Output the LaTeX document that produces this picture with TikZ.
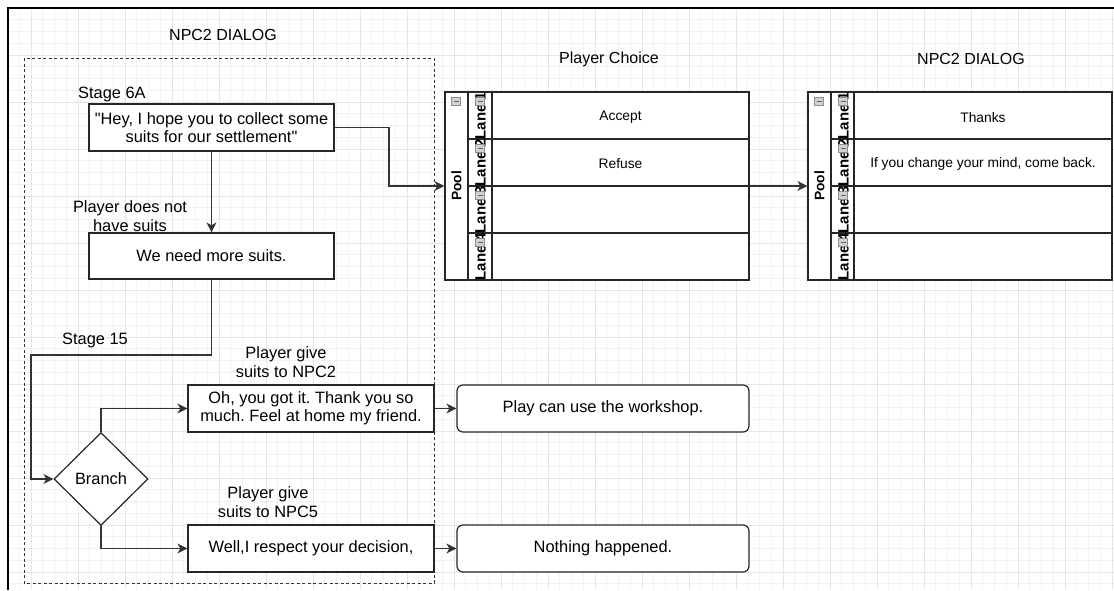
\documentclass[tikz,border=0pt]{standalone}
\usepackage{fontspec}
\setmainfont{Liberation Sans}[Ligatures=TeXOff]
\usetikzlibrary{arrows.meta,shapes.geometric,calc}
\frenchspacing

\tikzset{
  gridminor/.style={draw=black!5, line width=0.6pt},
  gridmajor/.style={draw=black!10, line width=0.8pt},
  frameline/.style={draw=black, line width=2pt},
  box/.style={draw=black!85, line width=1.2pt, fill=white, rectangle, inner sep=0pt, align=center,
              font=\fontsize{16.4}{18.5}\selectfont},
  roundbox/.style={box, rounded corners=6pt},
  decision/.style={draw=black!85, line width=1.2pt, fill=white, diamond, inner sep=0pt,
              minimum width=94pt, minimum height=93pt, font=\fontsize{16.4}{18.5}\selectfont},
  lbl/.style={inner sep=0pt, align=center, font=\fontsize{16.4}{18.5}\selectfont},
  heading/.style={inner sep=0pt, font=\fontsize{16}{19}\selectfont},
  groupbox/.style={draw=black!80, line width=1pt, dash pattern=on 3pt off 2.5pt},
  poolbox/.style={draw=black!85, line width=1.2pt, fill=white, rectangle, inner sep=0pt},
  laneline/.style={draw=black!85, line width=1.2pt},
  lanetext/.style={inner sep=0pt, font=\fontsize{13.8}{16}\selectfont},
  poolhead/.style={inner sep=0pt, rotate=90, font=\fontsize{13.8}{16}\selectfont\bfseries},
  lanehead/.style={inner sep=0pt, rotate=90, font=\fontsize{15}{16}\selectfont\bfseries},
  conn/.style={draw=black!80, line width=1.2pt, -{Stealth[length=10pt,width=10pt,inset=3pt]}},
  minusbox/.pic={
    \draw[draw=black!45, fill=black!18, line width=0.6pt] (-4.5,-4) rectangle (4.5,4);
    \draw[draw=black!60, line width=0.8pt] (-2.5,0) -- (2.5,0);
  }
}

\begin{document}
\begin{tikzpicture}[x=1pt,y=-1pt]
\useasboundingbox (0,0) rectangle (1114,590);
\fill[white] (0,0) rectangle (1114,590);

% background grid
\begin{scope}
  \clip (8,8) rectangle (1114,590);
  \foreach \i in {0,...,96} \draw[gridminor] ({-4.25+\i*11.75},0) -- ++(0,590);
  \foreach \i in {0,...,52} \draw[gridminor] (0,{-3.75+\i*11.75}) -- ++(1114,0);
  \foreach \i in {0,...,24} \draw[gridmajor] ({-16+\i*47},0) -- ++(0,590);
  \foreach \i in {0,...,13} \draw[gridmajor] (0,{8+\i*47}) -- ++(1114,0);
\end{scope}
\draw[frameline] (8,590) -- (8,8) -- (1114,8);

% left group: NPC2 dialog
\node[heading] (t1) at (223,35) {NPC2 DIALOG};
\draw[groupbox] (24,58) rectangle (434,583);

\node[lbl, anchor=west] (s6a) at (78,94) {Stage 6A};
\node[box, minimum width=245pt, minimum height=47pt] (b1) at (211.5,127.5)
  {"Hey, I hope you to collect some\\suits for our settlement"};
\node[lbl] (c1) at (130,216) {Player does not\\have suits};
\node[box, minimum width=245pt, minimum height=46pt] (b2) at (211.5,256) {We need more suits.};
\node[lbl, anchor=west] (s15) at (62,340) {Stage 15};
\node[decision] (br) at (101,479) {Branch};
\node[lbl] (c2) at (286,362) {Player give\\suits to NPC2};
\node[box, minimum width=246pt, minimum height=47pt] (b3) at (311,408.5)
  {Oh, you got it. Thank you so\\much. Feel at home my friend.};
\node[lbl] (c3) at (268,502) {Player give\\suits to NPC5};
\node[box, minimum width=246pt, minimum height=47pt] (b4) at (311,548.5) {Well,I respect your decision,};

% outcomes
\node[roundbox, minimum width=292pt, minimum height=47pt] (o1) at (603,408.5) {Play can use the workshop.};
\node[roundbox, minimum width=292pt, minimum height=47pt] (o2) at (603,548.5) {Nothing happened.};

% pool 1: player choice
\node[heading] (t2) at (609,59) {Player Choice};
\node[poolbox, minimum width=304pt, minimum height=188pt] (p1) at (597,186) {};
\draw[laneline] (468,92) -- (468,280);
\draw[laneline] (492,92) -- (492,280);
\foreach \yy in {139,186,233} \draw[laneline] (468,\yy) -- (749,\yy);
\node[poolhead] (p1h) at (456.5,186) {Pool};
\foreach \k/\yy in {1/115.5,2/162.5,3/209.5,4/256.5} {
  \node[lanehead] (p1l\k) at (480.5,\yy) {Lane \k};
  \pic at (480,{\yy-14.5}) {minusbox};
}
\pic at (456,101) {minusbox};
\node[lanetext] (ch1) at (620.5,117.5) {Accept};
\node[lanetext] (ch2) at (620.5,164) {Refuse};

% pool 2: NPC2 reply
\node[heading] (t3) at (971,59) {NPC2 DIALOG};
\node[poolbox, minimum width=304pt, minimum height=188pt] (p2) at (960,186) {};
\draw[laneline] (831,92) -- (831,280);
\draw[laneline] (854,92) -- (854,280);
\foreach \yy in {139,186,233} \draw[laneline] (831,\yy) -- (1112,\yy);
\node[poolhead] (p2h) at (819.5,186) {Pool};
\foreach \k/\yy in {1/115.5,2/162.5,3/209.5,4/256.5} {
  \node[lanehead] (p2l\k) at (843.5,\yy) {Lane \k};
  \pic at (843,{\yy-14.5}) {minusbox};
}
\pic at (819,101) {minusbox};
\node[lanetext] (r1) at (983,117.5) {Thanks};
\node[lanetext] (r2) at (983,164) {If you change your mind, come back.};

% connectors
\coordinate (bend1) at (389,186);
\coordinate (bend2) at (31,355);
\draw[conn] (b1.east) -| (bend1) -- (p1.west);
\draw[conn] (b1.south) -- (b2.north);
\draw[conn] (b2.south) |- (bend2) |- (br.west);
\draw[conn] (br.north) |- (b3.west);
\draw[conn] (br.south) |- (b4.west);
\draw[conn] (b3.east) -- (o1.west);
\draw[conn] (b4.east) -- (o2.west);
\draw[conn] (p1.east) -- (p2.west);
\end{tikzpicture}
\end{document}
